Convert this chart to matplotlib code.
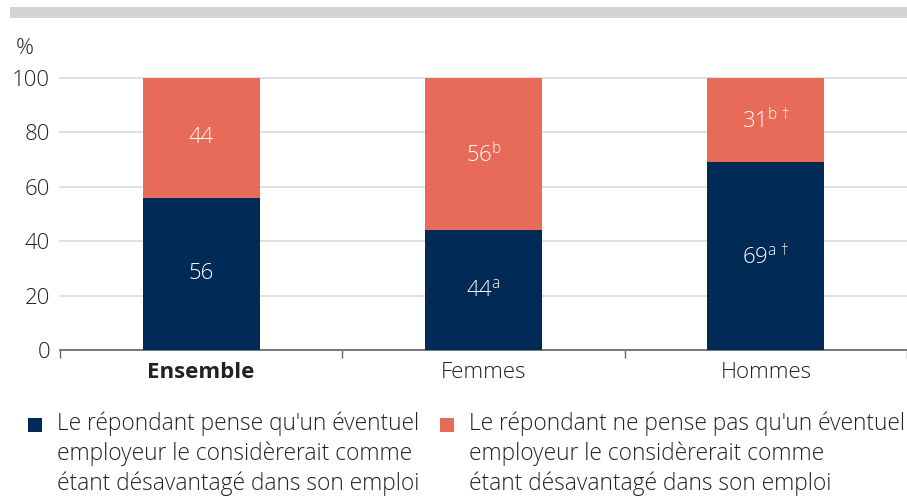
import matplotlib
matplotlib.use("Agg")
import matplotlib.pyplot as plt
from matplotlib.patches import Rectangle
import numpy as np

plt.rcParams['font.family'] = ['Open Sans', 'DejaVu Sans']
plt.rcParams['font.weight'] = 'light'
plt.rcParams['mathtext.fontset'] = 'custom'
plt.rcParams['mathtext.rm'] = 'Open Sans:light'
plt.rcParams['mathtext.it'] = 'Open Sans:light'

categories = ["Ensemble", "Femmes", "Hommes"]
pense = [56, 44, 69]
ne_pense_pas = [44, 56, 31]
labels_pense = ["56", r"44$^{\mathrm{a}}$", r"69$^{\mathrm{a}\,\dagger}$"]
labels_ne_pense = ["44", r"56$^{\mathrm{b}}$", r"31$^{\mathrm{b}\,\dagger}$"]
legend_labels = [
    "Le répondant pense qu'un éventuel\nemployeur le considèrerait comme\nétant désavantagé dans son emploi",
    "Le répondant ne pense pas qu'un éventuel\nemployeur le considèrerait comme\nétant désavantagé dans son emploi",
]

navy = "#012a57"
orange = "#e86a58"
fs = 16

fig = plt.figure(figsize=(9.07, 4.96), dpi=100)
ax = fig.add_axes([60 / 907, 1 - 350 / 496, 847 / 907, 272 / 496])

# grey band on top
fig.patches.append(Rectangle((10 / 907, 1 - 18 / 496), 1, 11 / 496,
                             transform=fig.transFigure, color="#d4d4d4", lw=0))

x = np.arange(len(categories))
w = 0.415
ax.bar(x, pense, w, color=navy, zorder=3)
ax.bar(x, ne_pense_pas, w, bottom=pense, color=orange, zorder=3)

for i in range(len(categories)):
    ax.text(x[i], pense[i] / 2, labels_pense[i], color="white", ha="center",
            va="center", fontsize=fs, zorder=4)
    ax.text(x[i], pense[i] + ne_pense_pas[i] / 2, labels_ne_pense[i], color="white",
            ha="center", va="center", fontsize=fs, zorder=4)

ax.set_xlim(-0.5, 2.5)
ax.set_ylim(0, 100)
ax.set_yticks([0, 20, 40, 60, 80, 100])
ax.grid(axis="y", color="#dddddd", lw=1.3, zorder=0)
for gl in ax.get_ygridlines():
    gl.set_clip_on(False)
ax.tick_params(axis="y", length=0, pad=7, labelsize=fs, labelcolor="#222222")
ax.set_xticks(x)
ax.set_xticklabels(categories)
ax.tick_params(axis="x", length=0, pad=9, labelsize=fs, labelcolor="#222222")
ax.get_xticklabels()[0].set_fontweight("bold")
ax.set_xticks([-0.5, 0.5, 1.5, 2.5], minor=True)
ax.tick_params(axis="x", which="minor", length=6, color="#666666", width=1)
for s in ["left", "top", "right"]:
    ax.spines[s].set_visible(False)
ax.spines["bottom"].set_color("#666666")
ax.spines["bottom"].set_linewidth(1.2)

fig.text(16 / 907, 1 - 48 / 496, "%", fontsize=fs, color="#222222", va="center")

# legend
for lx, col, lab in [(28, navy, legend_labels[0]), (440, orange, legend_labels[1])]:
    fig.patches.append(Rectangle((lx / 907, 1 - 432 / 496), 14 / 907, 14 / 496,
                                 transform=fig.transFigure, color=col, lw=0))
    fig.text((lx + 29) / 907, 1 - 412 / 496, lab, fontsize=16.4, color="#222222",
             va="top", ha="left", linespacing=1.3)

fig.savefig("out.png", dpi=100)
